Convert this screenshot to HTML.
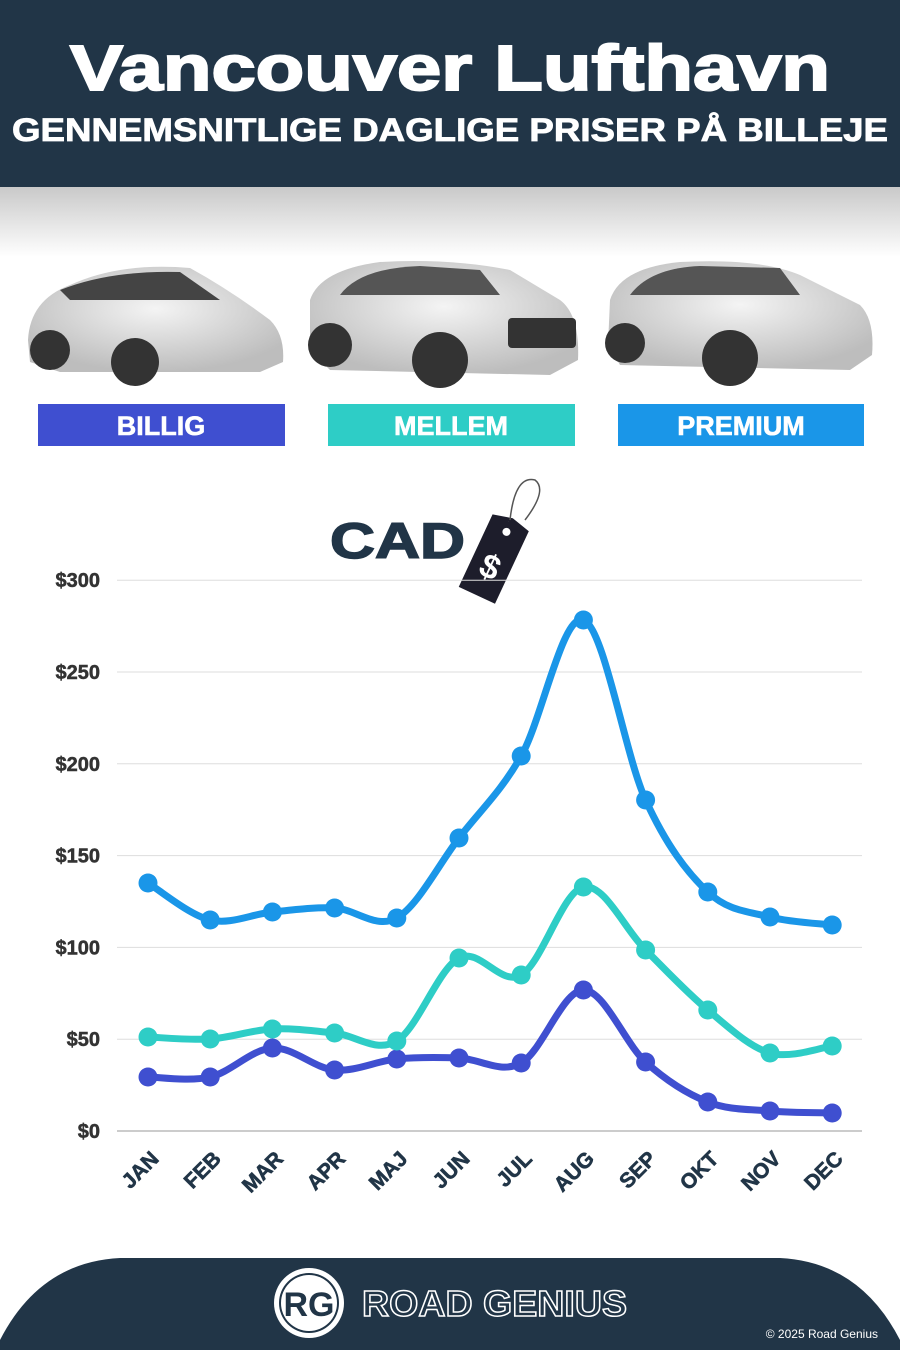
<!DOCTYPE html>
<html><head><meta charset="utf-8"><style>
body{margin:0;width:900px;height:1350px;overflow:hidden;background:#fff;font-family:"Liberation Sans",sans-serif}
</style></head><body>
<svg id="s" width="900" height="1350" viewBox="0 0 900 1350" xmlns="http://www.w3.org/2000/svg">
<defs>
<linearGradient id="sh" x1="0" y1="0" x2="0" y2="1"><stop offset="0" stop-color="#c9c9c9"/><stop offset="1" stop-color="#fff"/></linearGradient>
<radialGradient id="car" cx="0.5" cy="0.4" r="0.6"><stop offset="0" stop-color="#f4f4f4"/><stop offset="1" stop-color="#bdbdbd"/></radialGradient>
</defs>
<rect x="0" y="0" width="900" height="187" fill="#213547"/>
<rect x="0" y="187" width="900" height="70" fill="url(#sh)"/>
<text x="70" y="90" textLength="760" lengthAdjust="spacingAndGlyphs" font-size="64" font-weight="bold" fill="#fff" stroke="#fff" stroke-width="2">Vancouver Lufthavn</text>
<text x="12" y="141" textLength="876" lengthAdjust="spacingAndGlyphs" font-size="32" font-weight="bold" fill="#fff" stroke="#fff" stroke-width="0.8">GENNEMSNITLIGE DAGLIGE PRISER PÅ BILLEJE</text>
<g>
<path d="M28 340 Q30 300 70 285 Q120 262 190 268 Q230 290 270 320 Q285 335 283 362 L260 372 L60 372 L30 362 Z" fill="url(#car)"/>
<circle cx="50" cy="350" r="20" fill="#333"/><circle cx="135" cy="362" r="24" fill="#333"/>
<path d="M60 290 Q110 270 180 272 L220 300 L70 300 Z" fill="#444"/>
<path d="M310 300 Q320 270 380 262 Q450 258 510 270 L560 300 Q580 315 578 360 L550 375 L330 370 L310 350 Z" fill="url(#car)"/>
<path d="M340 295 Q360 268 420 266 L480 270 L500 295 Z" fill="#555"/>
<rect x="508" y="318" width="68" height="30" rx="4" fill="#333"/>
<circle cx="330" cy="345" r="22" fill="#333"/><circle cx="440" cy="360" r="28" fill="#333"/>
<path d="M610 300 Q620 268 680 262 Q760 258 800 275 L860 305 Q875 320 872 355 L850 370 L620 365 L608 345 Z" fill="url(#car)"/>
<path d="M630 295 Q650 268 700 266 L780 268 L800 295 Z" fill="#555"/>
<circle cx="625" cy="343" r="20" fill="#333"/><circle cx="730" cy="358" r="28" fill="#333"/>
</g>
<rect x="38" y="404" width="247" height="42" fill="#3f4fd0"/>
<rect x="328" y="404" width="247" height="42" fill="#2ecdc6"/>
<rect x="618" y="404" width="246" height="42" fill="#1a96e8"/>
<g font-size="27" font-weight="bold" fill="#fff" text-anchor="middle" stroke="#fff" stroke-width="0.6">
<text x="161" y="435">BILLIG</text><text x="451" y="435">MELLEM</text><text x="741" y="435">PREMIUM</text></g>
<text x="330" y="558" textLength="135" lengthAdjust="spacingAndGlyphs" font-size="50" font-weight="bold" fill="#213547" stroke="#213547" stroke-width="1.5">CAD</text>
<g transform="rotate(25 498 550)">
<path d="M478 520 L518 520 L518 600 L478 600 Z M498 515 L478 520 L518 520 Z" fill="#1d1d2b"/>
<circle cx="498" cy="530" r="4" fill="#fff"/>
<text x="498" y="580" text-anchor="middle" font-size="34" font-weight="bold" fill="#fff">$</text></g>
<path d="M510 520 Q515 475 535 480 Q548 490 525 520" fill="none" stroke="#555" stroke-width="1.5"/>
<g id="grid"></g>
<g id="lines"></g>
<path d="M0 1350 L0 1340 Q40 1262 120 1258 L780 1258 Q860 1262 900 1340 L900 1350 Z" fill="#213547"/>
<circle cx="309" cy="1303" r="35" fill="#fff"/><circle cx="309" cy="1303" r="30" fill="#213547"/><circle cx="309" cy="1303" r="28" fill="#fff"/>
<text x="309" y="1316" text-anchor="middle" font-size="34" font-weight="bold" fill="#213547">RG</text>
<text x="362" y="1316" textLength="265" lengthAdjust="spacingAndGlyphs" font-size="36" font-weight="bold" fill="none" stroke="#fff" stroke-width="1.5">ROAD GENIUS</text>
<text x="878" y="1338" text-anchor="end" font-size="12" fill="#fff">© 2025 Road Genius</text>
</svg>
<script>
var NS="http://www.w3.org/2000/svg",s=document.getElementById('s');
function el(t,a,p){var e=document.createElementNS(NS,t);for(var k in a)e.setAttribute(k,a[k]);(p||s).appendChild(e);return e}
var g=document.getElementById('grid'),L=document.getElementById('lines');
var labs=['$0','$50','$100','$150','$200','$250','$300'];
for(var i=0;i<7;i++){var y=1131-i*91.8;el('line',{x1:117,x2:862,y1:y,y2:y,stroke:i==0?'#999':'#ddd','stroke-width':1},g);
var t=el('text',{x:100,y:y+7,'text-anchor':'end','font-size':20,'font-weight':'bold',fill:'#333',stroke:'#333','stroke-width':0.5},g);t.textContent=labs[i];}
var m=['JAN','FEB','MAR','APR','MAJ','JUN','JUL','AUG','SEP','OKT','NOV','DEC'];
for(var i=0;i<12;i++){var x=148+i*62.2;var t=el('text',{x:x+12,y:1160,'text-anchor':'end','font-size':21,'font-weight':'bold',fill:'#213547',stroke:'#213547','stroke-width':0.6,transform:'rotate(-45 '+(x+12)+' 1160)'});t.textContent=m[i];}
var D=[['#1a96e8',[883,920,912,908,918,838,756,620,800,892,917,925]],['#2ecdc6',[1037,1039,1029,1033,1041,958,975,887,950,1010,1053,1046]],['#3f4fd0',[1077,1077,1048,1070,1059,1058,1063,990,1062,1102,1111,1113]]];
D.reverse().forEach(function(d){var P=d[1].map(function(y,i){return[148+i*62.2,y]});var p='M'+P[0];
for(var i=0;i<P.length-1;i++){var a=P[Math.max(i-1,0)],b=P[i],c=P[i+1],e=P[Math.min(i+2,P.length-1)];
p+=' C'+(b[0]+(c[0]-a[0])/6)+','+(b[1]+(c[1]-a[1])/6)+' '+(c[0]-(e[0]-b[0])/6)+','+(c[1]-(e[1]-b[1])/6)+' '+c;}
el('path',{d:p,fill:'none',stroke:d[0],'stroke-width':7,'stroke-linecap':'round'},L);
P.forEach(function(q){el('circle',{cx:q[0],cy:q[1],r:9.5,fill:d[0]},L)});});
</script>
</body></html>
